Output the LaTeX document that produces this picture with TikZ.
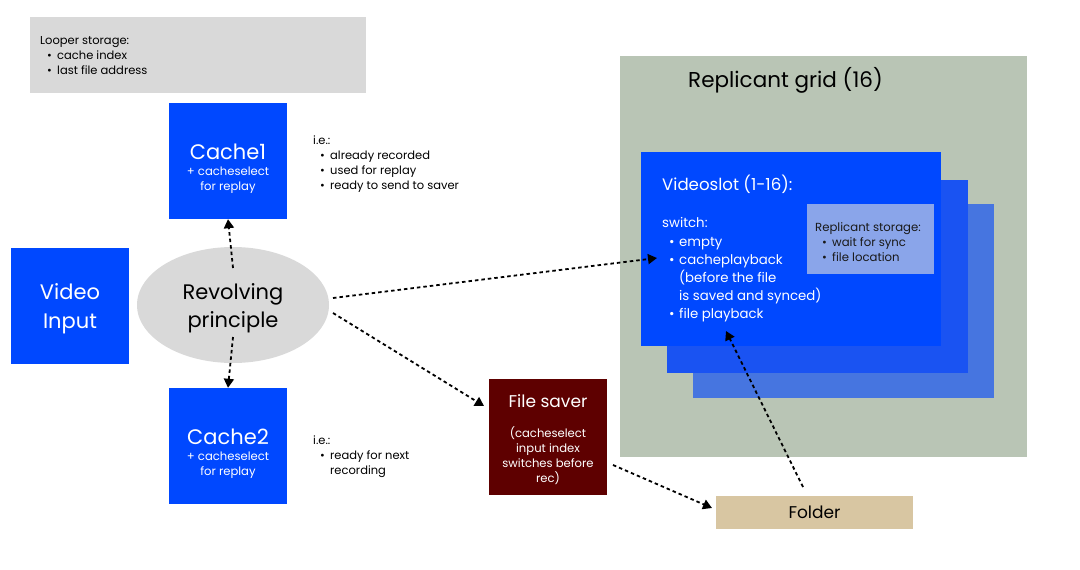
\documentclass[tikz,border=0pt]{standalone}
\usepackage{fontspec}
\setmainfont{Poppins}
\usetikzlibrary{arrows.meta,shapes.geometric,calc}
\definecolor{lgray}{HTML}{D9D9D9}
\definecolor{vblue}{HTML}{0048FF}
\definecolor{vblue2}{HTML}{1A53F2}
\definecolor{vblue3}{HTML}{4675E0}
\definecolor{rsblue}{HTML}{8AA5EA}
\definecolor{gridgreen}{HTML}{B9C5B5}
\definecolor{darkred}{HTML}{5E0000}
\definecolor{foldertan}{HTML}{D8C6A2}
\newcommand{\li}{\hspace*{7pt}\makebox[10pt][l]{•}}
\newcommand{\lic}{\hspace*{17pt}}
\tikzset{
  box/.style={rectangle, inner sep=0pt, draw=none},
  bluebox/.style={box, fill=vblue, text=white, minimum width=118pt, minimum height=116pt, align=center},
  txt/.style={inner sep=0pt, align=left, anchor=west},
  boxtitle/.style={inner sep=0pt, text=white, font=\fontsize{21}{24}\selectfont},
  boxsub/.style={inner sep=0pt, text=white, align=center, font=\fontsize{11.6}{15}\selectfont},
  conn/.style={line width=1.8pt, dash pattern=on 3.5pt off 3pt, -{Triangle[length=9pt,width=10pt]}},
}
\begin{document}
\begin{tikzpicture}[x=1pt,y=-1pt]
\useasboundingbox[fill=white] (0,0) rectangle (1080,570);
% looper storage
\node[box, fill=lgray, minimum width=336pt, minimum height=76pt] (looper) at (198,55) {};
\node[txt, font=\fontsize{11.5}{15}\selectfont] (looperTxt) at (40,56) {Looper storage:\\ \li cache index\\ \li last file address};
% caches
\node[bluebox] (cache1) at (228,161) {};
\node[boxtitle] (cache1Title) at (228,152) {Cache1};
\node[boxsub] (cache1Sub) at (228,180) {+ cacheselect\\ for replay};
\node[txt, font=\fontsize{11.5}{15}\selectfont] (ie1) at (313,164.5) {i.e.:\\ \li already recorded\\ \li used for replay\\ \li ready to send to saver};
\node[bluebox] (cache2) at (228,446) {};
\node[boxtitle] (cache2Title) at (228,437) {Cache2};
\node[boxsub] (cache2Sub) at (228,465) {+ cacheselect\\ for replay};
\node[txt, font=\fontsize{11.5}{15}\selectfont] (ie2) at (313,456.5) {i.e.:\\ \li ready for next\\ \lic recording};
% video input
\node[bluebox] (video) at (70,306) {};
\node[boxtitle, align=center, font=\fontsize{21}{29}\selectfont] (videoTxt) at (70,309) {Video\\ Input};
% revolving ellipse
\node[ellipse, fill=lgray, inner sep=0pt, minimum width=192pt, minimum height=116pt] (rev) at (233,305) {};
\node[inner sep=0pt, align=center, font=\fontsize{21}{28}\selectfont] (revTxt) at (233,308) {Revolving\\ principle};
% file saver
\node[box, fill=darkred, minimum width=118pt, minimum height=116pt] (saver) at (548,437) {};
\node[inner sep=0pt, text=white, font=\fontsize{17}{20}\selectfont] (saverTitle) at (548,401) {File saver};
\node[inner sep=0pt, text=white, align=center, font=\fontsize{11.6}{15}\selectfont] (saverSub) at (548,455.5) {(cacheselect\\ input index\\ switches before\\ rec)};
% folder
\node[box, fill=foldertan, minimum width=197pt, minimum height=33pt, font=\fontsize{17}{20}\selectfont] (folder) at (814.5,512.5) {Folder};
% replicant grid
\node[box, fill=gridgreen, minimum width=407pt, minimum height=401pt] (grid) at (823.5,256.5) {};
\node[inner sep=0pt, font=\fontsize{21.5}{24}\selectfont] (gridTitle) at (785.5,80) {Replicant grid (16)};
\node[box, fill=vblue3, minimum width=301pt, minimum height=194pt] (layer3) at (843.5,301) {};
\node[box, fill=vblue2, minimum width=301pt, minimum height=193pt] (layer2) at (817.5,276.5) {};
\node[box, fill=vblue, minimum width=300pt, minimum height=194pt] (slot) at (791,249) {};
\node[txt, text=white, font=\fontsize{16.6}{20}\selectfont] (slotTitle) at (662,184) {Videoslot (1-16):};
\node[txt, text=white, font=\fontsize{13.3}{18.2}\selectfont] (slotList) at (662,270) {switch:\\ \li empty\\ \li cacheplayback\\ \lic (before the file\\ \lic is saved and synced)\\ \li file playback};
\node[box, fill=rsblue, minimum width=127pt, minimum height=70pt] (repStore) at (870.5,239) {};
\node[txt, text=black!90, font=\fontsize{11.7}{15}\selectfont] (repTxt) at (815,242) {Replicant storage:\\ \li wait for sync\\ \li file location};
% connector end points
\coordinate (c1s) at (233,268);
\coordinate (c2s) at (233,337);
\coordinate (vs) at (333,298);
\coordinate (vt) at (657,258);
\coordinate (fs) at (333,313);
\coordinate (ft) at (484,406);
\coordinate (ss) at (613,465);
\coordinate (st) at (712,508);
\coordinate (os) at (803,487);
\coordinate (ot) at (726,331);
% connectors
\draw[conn] (c1s) -- (cache1.south);
\draw[conn] (c2s) -- (cache2.north);
\draw[conn] (vs) -- (vt);
\draw[conn] (fs) -- (ft);
\draw[conn] (ss) -- (st);
\draw[conn] (os) -- (ot);
\end{tikzpicture}
\end{document}
